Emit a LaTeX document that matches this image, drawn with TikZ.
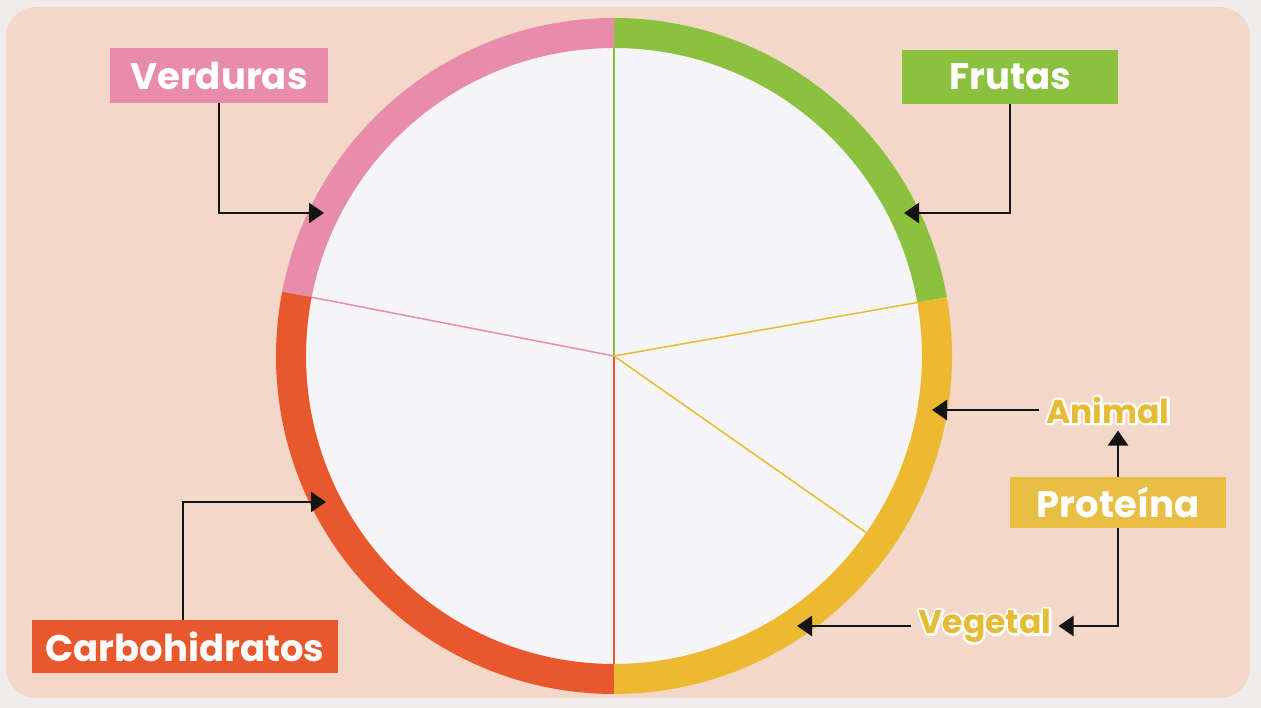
\documentclass[tikz,border=0pt]{standalone}
\usepackage{fontspec}
\newfontfamily\labfont{Poppins}
\usetikzlibrary{arrows.meta}
\newcommand\strokedtext[1]{\special{pdf:literal direct 1 Tr 4.5 w 1 J 1 j 1 1 1 RG}#1\special{pdf:literal direct 0 Tr 1 w}}
\definecolor{outerbg}{HTML}{EFEDEC}
\definecolor{bgpeach}{HTML}{F3D7C9}
\definecolor{platefill}{HTML}{F5F5F7}
\definecolor{cpink}{HTML}{E98BAB}
\definecolor{cgreen}{HTML}{8CC140}
\definecolor{corange}{HTML}{E9572C}
\definecolor{cyellow}{HTML}{ECB930}
\definecolor{cprot}{HTML}{E9BE45}
\definecolor{ctext}{HTML}{E6BC36}
\begin{document}
\begin{tikzpicture}[x=1pt,y=1pt,
  lab/.style={font=\labfont\bfseries\fontsize{37}{42}\selectfont, text=white, inner sep=0pt, anchor=center},
  sublab/.style={font=\labfont\bfseries\fontsize{33}{38}\selectfont, text=ctext, inner sep=7pt},
  ringseg/.style={line width=30pt},
  divline/.style={line width=1.5pt},
  arr/.style={line width=2.5pt, draw=black!92, -{Triangle[length=15pt,width=20pt]}}]
\useasboundingbox (0,0) rectangle (1261,708);
\fill[outerbg] (0,0) rectangle (1261,708);
\fill[bgpeach, rounded corners=30pt] (6,10) rectangle (1250,701);
% plate
\coordinate (c) at (614,352);
\fill[platefill] (c) circle[radius=308];
\draw[ringseg, cgreen]  ([shift={(10:323)}]c) arc[start angle=10, end angle=90, radius=323];
\draw[ringseg, cpink]   ([shift={(90:323)}]c) arc[start angle=90, end angle=169, radius=323];
\draw[ringseg, corange] ([shift={(169:323)}]c) arc[start angle=169, end angle=270, radius=323];
\draw[ringseg, cyellow] ([shift={(270:323)}]c) arc[start angle=270, end angle=370, radius=323];
% dividing lines
\draw[divline, cgreen]  (c) -- ++(90:308);
\draw[divline, corange] (c) -- ++(270:308);
\draw[divline, cpink]   (c) -- ++(169:308);
\draw[divline, cyellow] (c) -- ++(10:308);
\draw[divline, cyellow] (c) -- ++(-35:308);
% labels
\node[lab, fill=cpink, minimum width=218pt, minimum height=55pt] (verd) at (219,632.5) {Verduras};
\node[lab, fill=cgreen, minimum width=216pt, minimum height=54pt] (frut) at (1010,631) {Frutas};
\node[lab, fill=corange, minimum width=306pt, minimum height=53pt] (carb) at (185,61.5) {Carbohidratos};
\node[lab, fill=cprot, minimum width=216pt, minimum height=51pt] (prot) at (1118,205.5) {Proteína};
% white outline behind the yellow words
\node[sublab, text=white] (animout) at (1108,298) {\strokedtext{Animal}};
\node[sublab, text=white] (vegout) at (985,82) {\strokedtext{Vegetal}};
\node[sublab] (anim) at (1108,298) {Animal};
\node[sublab] (veg) at (985,82) {Vegetal};
% arrow tips on the ring
\coordinate (tipV) at (324,495);
\coordinate (tipF) at (904,495);
\coordinate (tipC) at (326,206);
\coordinate (tipA) at (932,298);
\coordinate (tipG) at (797,82);
% connectors
\draw[arr] (verd.south) |- (tipV);
\draw[arr] (frut.south) |- (tipF);
\draw[arr] ([xshift=-2pt]carb.north) |- (tipC);
\draw[arr] (anim.west) -- (tipA);
\draw[arr] (prot.north) -- (prot.north |- anim.south);
\draw[arr] (prot.south) |- (veg.east);
\draw[arr] (veg.west) -- (tipG);
\end{tikzpicture}
\end{document}
